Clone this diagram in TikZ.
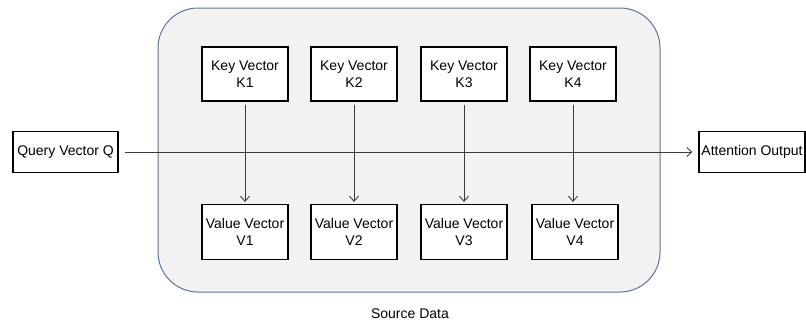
\documentclass[tikz,border=0pt]{standalone}
\usepackage{fontspec}
\setmainfont{Liberation Sans}
\usetikzlibrary{arrows.meta}
\definecolor{panelfill}{HTML}{F2F2F2}
\definecolor{paneldraw}{HTML}{5F7594}
\definecolor{linecol}{HTML}{3A3A3A}
\begin{document}
\begin{tikzpicture}[x=1pt,y=-1pt,
  vbox/.style={draw=black,line width=1.2pt,fill=white,minimum width=86pt,minimum height=54pt,align=center,font=\fontsize{14}{17}\selectfont,inner sep=0pt},
  sidebox/.style={draw=black,line width=1.2pt,fill=white,minimum height=41pt,align=center,font=\fontsize{14}{17}\selectfont,inner sep=0pt},
  conn/.style={draw=linecol,line width=0.9pt,-{Straight Barb[length=5pt,width=9pt]}}]
\useasboundingbox (0,0) rectangle (806,325);
\node[draw=paneldraw,fill=panelfill,line width=1pt,rounded corners=40pt,minimum width=502pt,minimum height=284pt,inner sep=0pt] (panel) at (409,150) {};
\node[font=\fontsize{14}{17}\selectfont] (src) at (410,314) {Source Data};
\node[vbox] (k1) at (245,74) {Key Vector\\K1};
\node[vbox] (k2) at (354,74) {Key Vector\\K2};
\node[vbox] (k3) at (464,74) {Key Vector\\K3};
\node[vbox] (k4) at (573,74) {Key Vector\\K4};
\node[vbox,minimum height=55pt] (v1) at (245,232) {Value Vector\\V1};
\node[vbox,minimum height=55pt] (v2) at (354,232) {Value Vector\\V2};
\node[vbox,minimum height=55pt] (v3) at (464,232) {Value Vector\\V3};
\node[vbox,minimum height=55pt] (v4) at (575,232) {Value Vector\\V4};
\node[sidebox,minimum width=105pt] (q) at (65.5,152) {Query Vector Q};
\node[sidebox,minimum width=106pt] (out) at (752,152) {Attention Output};
\draw[conn,shorten <=6pt,shorten >=6pt] (q) -- (out);
\foreach \i in {1,2,3,4}{
  \draw[conn,shorten <=3pt,shorten >=2pt] (k\i.south) -- (k\i.south |- v\i.north);
}
\end{tikzpicture}
\end{document}
